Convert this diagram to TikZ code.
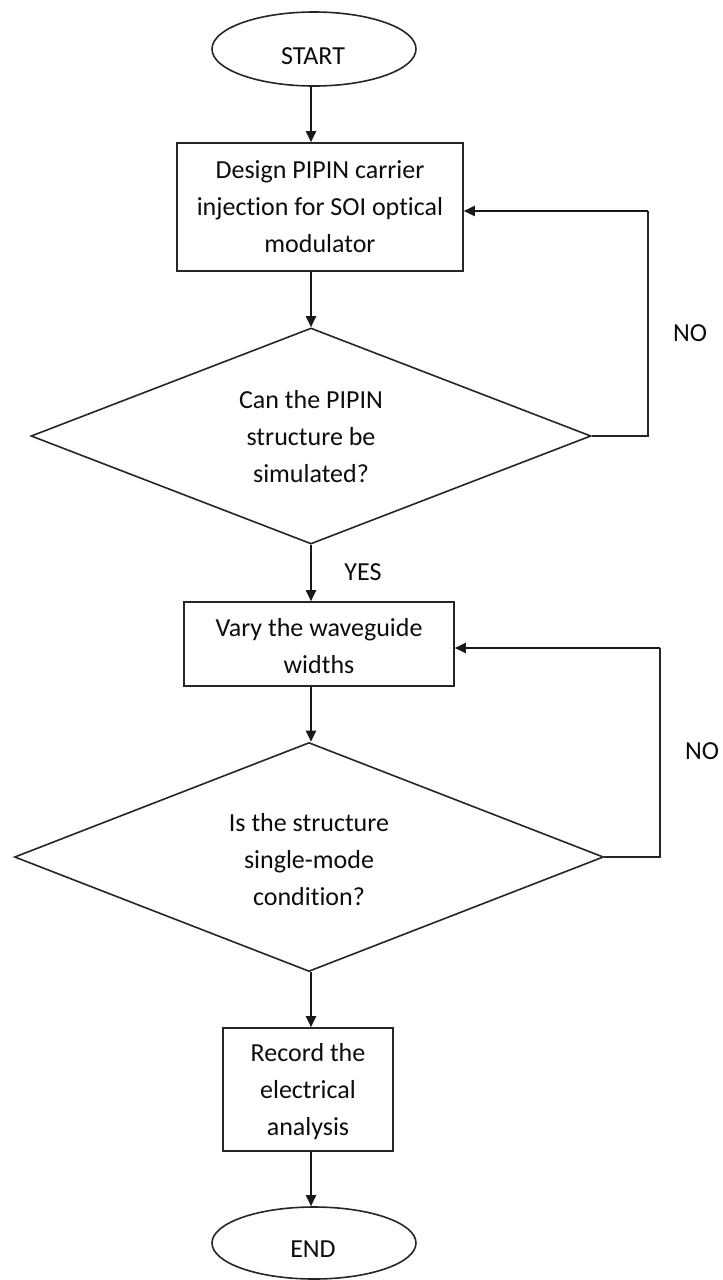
\documentclass[tikz,border=0pt]{standalone}
\usepackage{fontspec}
\setmainfont[Ligatures=NoCommon]{Carlito}
\usetikzlibrary{shapes.geometric,arrows.meta}
\begin{document}
\begin{tikzpicture}[x=1pt,y=-1pt,
  every node/.style={font=\fontsize{26}{37}\selectfont, text=black!95},
  shapeline/.style={draw=black!85, line width=1.6pt},
  term/.style={shapeline, ellipse, minimum width=204pt, minimum height=74pt, inner sep=0pt},
  proc/.style={shapeline, rectangle, inner sep=0pt},
  deci/.style={shapeline, diamond, inner sep=0pt},
  txt/.style={align=center, inner sep=0pt},
  arr/.style={draw=black!90, line width=2pt, -{Triangle[length=11pt,width=10pt]}},
  link/.style={draw=black!85, line width=1.6pt}]
\useasboundingbox (0,0) rectangle (723,1280);
\fill[white] (0,0) rectangle (723,1280);
\coordinate (axis) at (311,0);

\node[term] (start) at (314,49) {};
\node[txt] (starttxt) at (313,56) {START};

\node[proc, minimum width=286pt, minimum height=128pt] (box1) at (320,207) {};
\node[txt] (box1txt) at (320,207) {Design PIPIN carrier\\injection for SOI optical\\modulator};

\node[deci, minimum width=560pt, minimum height=216pt] (d1) at (311,436) {};
\node[txt] (d1txt) at (311,437) {Can the PIPIN\\structure be\\simulated?};

\node[proc, minimum width=270pt, minimum height=84pt] (box2) at (319,644) {};
\node[txt] (box2txt) at (319,646) {Vary the waveguide\\widths};

\node[deci, minimum width=589pt, minimum height=229pt] (d2) at (309,857) {};
\node[txt] (d2txt) at (309,860) {Is the structure\\single-mode\\condition?};

\node[proc, minimum width=170pt, minimum height=123pt] (box3) at (308,1089.5) {};
\node[txt] (box3txt) at (308,1092) {Record the\\electrical\\analysis};

\node[term, minimum height=72pt] (end) at (314,1243) {};
\node[txt] (endtxt) at (313,1249) {END};

\draw[arr] (axis |- start.south) -- (axis |- box1.north);
\draw[arr] (axis |- box1.south) -- (d1.north);
\draw[arr] (d1.south) -- (axis |- box2.north);
\draw[arr] (axis |- box2.south) -- (axis |- d2.north);
\draw[arr] (axis |- d2.south) -- (axis |- box3.north);
\draw[arr] (axis |- box3.south) -- (axis |- end.north);

\coordinate (l1) at (648,211);
\draw[link] (d1.east) -| (l1);
\draw[arr] (l1) -- (l1 -| box1.east);
\coordinate (l2) at (660,648);
\draw[link] (d2.east) -| (l2);
\draw[arr] (l2) -- (l2 -| box2.east);

\node[txt] (yes) at (363,572) {YES};
\node[txt] (no1) at (690,333) {NO};
\node[txt] (no2) at (702,751) {NO};
\end{tikzpicture}
\end{document}
